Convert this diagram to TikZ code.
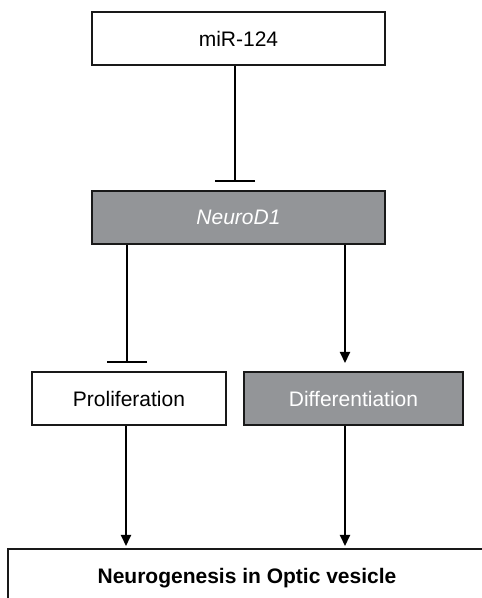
\documentclass[tikz,border=0pt]{standalone}
\usepackage{fontspec}
\setmainfont{Liberation Sans}
\usetikzlibrary{positioning}
\usetikzlibrary{arrows.meta}

\definecolor{boxgray}{RGB}{147,149,152}

\tikzset{
  box/.style={draw=black!90, line width=2pt, minimum height=53.5pt, inner sep=0pt,
    font=\fontsize{21}{25}\selectfont},
  greybox/.style={box, fill=boxgray, text=white},
  inhibit/.style={line width=2pt, -{Bar[width=40pt,line width=2pt]}, shorten >=8pt},
  activate/.style={line width=2pt, -{Triangle[width=10pt,length=11pt]}, shorten >=8pt},
}

\begin{document}
\begin{tikzpicture}[x=1pt,y=1pt]
\useasboundingbox (0,0) rectangle (482,598);
\clip (0,0) rectangle (482,598);

\node[box, minimum width=293pt](mir) at (238.5,559.25){miR-124};
\node[greybox, minimum width=293pt](neuro) at (238.5,380.5){\itshape NeuroD1};
\node[box, minimum width=194pt](prolif) at (129,199.25){Proliferation};
\node[greybox, minimum width=219pt](diff) at (353.5,199.25){Differentiation};
\node[box, minimum width=478pt, minimum height=70pt, text depth=0pt, anchor=north,
  font=\fontsize{21}{25}\selectfont\bfseries](neuro genesis) at (247,50){};
\node[font=\fontsize{21}{25}\selectfont\bfseries](ngtext) at (247,20){Neurogenesis in Optic vesicle};

\path
([xshift=-3.5pt]mir.south) edge[inhibit] ([xshift=-3.5pt]neuro.north)
([xshift=-2pt]neuro.south -| prolif.north) edge[inhibit] ([xshift=-2pt]prolif.north)
([xshift=-8.5pt]neuro.south -| diff.north) edge[activate] ([xshift=-8.5pt]diff.north)
([xshift=-3pt]prolif.south) edge[activate, shorten >=2pt] ([xshift=-3pt]prolif.south |- neuro genesis.north)
([xshift=-8.5pt]diff.south) edge[activate, shorten >=2pt] ([xshift=-8.5pt]diff.south |- neuro genesis.north);
\end{tikzpicture}
\end{document}
